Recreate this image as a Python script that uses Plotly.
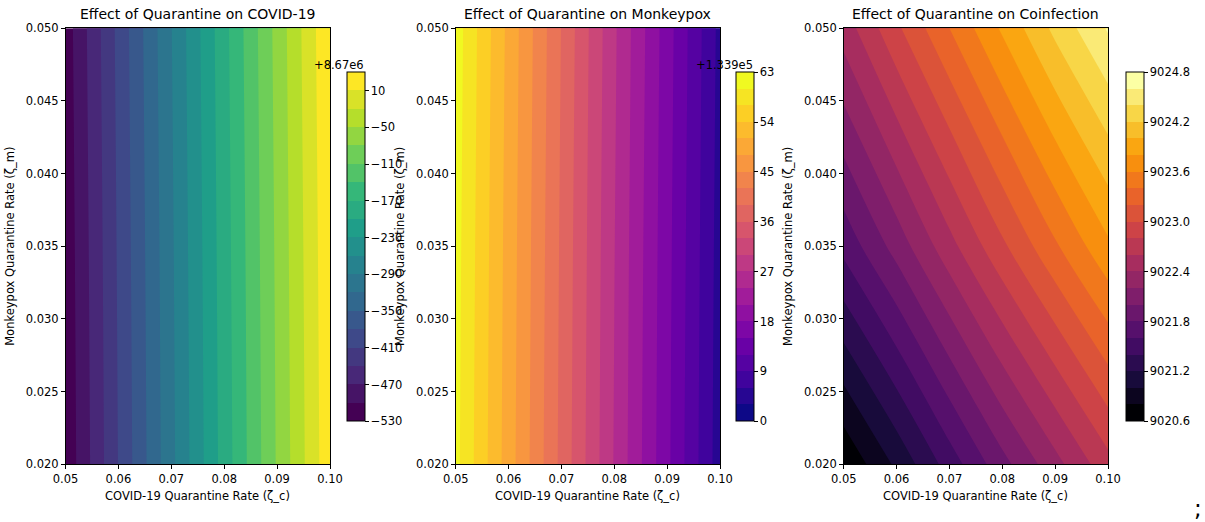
import plotly.graph_objects as go
from plotly.colors import sample_colorscale
import plotly.express as px

W, H = 1205, 522
FONT = "DejaVu Sans"

# ---------------- data ----------------
X_RATE = [0.05, 0.06, 0.07, 0.08, 0.09, 0.10]   # COVID-19 quarantine rate (zeta_c)
Y_RATE = [0.02, 0.035, 0.05]                     # Monkeypox quarantine rate (zeta_m)

COVID_OFFSET_LABEL = "+8.67e6"
COVID_Z = [                                      # offset from 8.67e6
    [-523, -409, -298, -187, -77, 32],
    [-520, -406, -295, -184, -74, 35],
    [-516, -402, -291, -180, -70, 39],
]
COVID_LEVELS = (-530, 30, 19)                    # first level, step, number of bands
COVID_TICKS = [-530, -470, -410, -350, -290, -230, -170, -110, -50, 10]

MPOX_OFFSET_LABEL = "+1.339e5"
MPOX_Z = [                                       # offset from 1.339e5
    [60.9, 49.5, 38.2, 26.8, 15.7, 4.4],
    [61.2, 49.8, 38.5, 27.1, 16.0, 4.7],
    [61.6, 50.2, 38.9, 27.5, 16.4, 5.1],
]
MPOX_LEVELS = (0, 3, 21)
MPOX_TICKS = [0, 9, 18, 27, 36, 45, 54, 63]

COINF_Z = [
    [9020.62, 9021.04, 9021.49, 9021.93, 9022.33, 9022.73],
    [9021.66, 9022.08, 9022.53, 9022.96, 9023.37, 9023.76],
    [9022.49, 9022.96, 9023.40, 9023.83, 9024.25, 9024.62],
]
COINF_LEVELS = (9020.6, 0.2, 21)
COINF_TICKS = [9020.6, 9021.2, 9021.8, 9022.4, 9023.0, 9023.6, 9024.2, 9024.8]

X_TICKS = [0.05, 0.06, 0.07, 0.08, 0.09, 0.10]
Y_TICKS = [0.020, 0.025, 0.030, 0.035, 0.040, 0.045, 0.050]

TITLES = ["Effect of Quarantine on COVID-19",
          "Effect of Quarantine on Monkeypox",
          "Effect of Quarantine on Coinfection"]
X_TITLE = "COVID-19 Quarantine Rate (ζ_c)"
Y_TITLE = "Monkeypox Quarantine Rate (ζ_m)"

# ---------------- layout geometry (pixels) ----------------
PLOT_X = [(65.5, 330.0), (455.7, 720.0), (843.7, 1108.0)]
PLOT_Y = (28.3, 464.3)
CBAR_X = [346.5, 736.0, 1125.8]
CBAR_Y = (72.5, 421.0)
CBAR_W = 18
TICK_SIZE = 11.5
TITLE_SIZE = 14

def px_x(v):
    return v / W

def px_y(v):
    return 1 - v / H

panels = [
    (COVID_Z, COVID_LEVELS, COVID_TICKS, px.colors.sequential.Viridis, None),
    (MPOX_Z, MPOX_LEVELS, MPOX_TICKS, px.colors.sequential.Plasma, None),
    (COINF_Z, COINF_LEVELS, COINF_TICKS, px.colors.sequential.Inferno, ".1f"),
]

fig = go.Figure()
annotations = []

for i, (z, (l0, step, n), ticks, cmap, tfmt) in enumerate(panels):
    ax = "" if i == 0 else str(i + 1)
    cols = sample_colorscale(cmap, [k / (n - 1) for k in range(n)])
    cont_scale = [[k / (n - 1), c] for k, c in enumerate(cols)]
    disc_scale = []
    for k, c in enumerate(cols):
        disc_scale.append([k / n, c])
        disc_scale.append([(k + 1) / n, c])

    fig.add_trace(go.Contour(
        x=X_RATE, y=Y_RATE, z=z,
        colorscale=cont_scale, showscale=False,
        contours=dict(coloring="fill", start=l0 + step, end=l0 + (n - 1) * step,
                      size=step, showlines=False),
        line=dict(width=0), hoverinfo="skip",
        xaxis="x" + ax, yaxis="y" + ax,
    ))
    # colorbar carrier
    fig.add_trace(go.Scatter(
        x=[X_RATE[0], X_RATE[0]], y=[Y_RATE[0], Y_RATE[0]], mode="markers",
        marker=dict(size=1, opacity=0, color=[l0, l0 + n * step],
                    cmin=l0, cmax=l0 + n * step, colorscale=disc_scale,
                    showscale=True,
                    colorbar=dict(
                        x=px_x(CBAR_X[i]), xanchor="left", xref="paper",
                        y=px_y((CBAR_Y[0] + CBAR_Y[1]) / 2), yanchor="middle",
                        len=(CBAR_Y[1] - CBAR_Y[0]) / H, lenmode="fraction",
                        thickness=CBAR_W, thicknessmode="pixels",
                        xpad=0, ypad=0, outlinewidth=1, outlinecolor="black",
                        ticks="outside", ticklen=3.5, tickwidth=0.8, tickcolor="black",
                        tickvals=ticks, tickformat=tfmt,
                        tickfont=dict(family=FONT, size=TICK_SIZE, color="black"),
                    )),
        hoverinfo="skip", showlegend=False,
        xaxis="x" + ax, yaxis="y" + ax,
    ))

    x0, x1 = PLOT_X[i]
    axis_common = dict(showline=True, mirror=True, linecolor="black", linewidth=1,
                       ticks="outside", ticklen=3.5, tickwidth=0.8, tickcolor="black",
                       showgrid=False, zeroline=False,
                       tickfont=dict(family=FONT, size=TICK_SIZE, color="black"))
    fig.update_layout(**{
        "xaxis" + ax: dict(domain=[px_x(x0), px_x(x1)], range=[0.05, 0.10],
                           tickvals=X_TICKS, tickformat=".2f",
                           anchor="y" + ax, **axis_common),
        "yaxis" + ax: dict(domain=[px_y(PLOT_Y[1]), px_y(PLOT_Y[0])], range=[0.02, 0.05],
                           tickvals=Y_TICKS, tickformat=".3f",
                           anchor="x" + ax, **axis_common),
    })
    cx = (x0 + x1) / 2
    annotations.append(dict(text=TITLES[i], x=px_x(cx), y=px_y(PLOT_Y[0] - 4),
                            xref="paper", yref="paper", xanchor="center", yanchor="bottom",
                            showarrow=False, font=dict(family=FONT, size=TITLE_SIZE, color="black")))
    annotations.append(dict(text=X_TITLE, x=px_x(cx), y=px_y(495.5),
                            xref="paper", yref="paper", xanchor="center", yanchor="middle",
                            showarrow=False, font=dict(family=FONT, size=TICK_SIZE, color="black")))
    annotations.append(dict(text=Y_TITLE, x=px_x(x0 - 55), y=px_y((PLOT_Y[0] + PLOT_Y[1]) / 2),
                            xref="paper", yref="paper", xanchor="center", yanchor="middle",
                            textangle=-90, showarrow=False,
                            font=dict(family=FONT, size=TICK_SIZE, color="black")))

for lbl, right in [(COVID_OFFSET_LABEL, CBAR_X[0] + CBAR_W), (MPOX_OFFSET_LABEL, CBAR_X[1] + CBAR_W)]:
    annotations.append(dict(text=lbl, x=px_x(right + 1), y=px_y(65), xref="paper", yref="paper",
                            xanchor="right", yanchor="middle", showarrow=False,
                            font=dict(family=FONT, size=TICK_SIZE, color="black")))

annotations.append(dict(text=";", x=px_x(1198), y=px_y(508), xref="paper", yref="paper",
                        xanchor="center", yanchor="middle", showarrow=False,
                        font=dict(family=FONT, size=23, color="black")))

fig.update_layout(width=W, height=H,
                  margin=dict(l=0, r=0, t=0, b=0, pad=0, autoexpand=False),
                  paper_bgcolor="white", plot_bgcolor="white",
                  showlegend=False, annotations=annotations,
                  font=dict(family=FONT, size=TICK_SIZE, color="black"))

fig.write_html("out.html", config={"displayModeBar": False},
               post_script="document.body.style.margin='0';document.body.style.overflow='hidden';")
